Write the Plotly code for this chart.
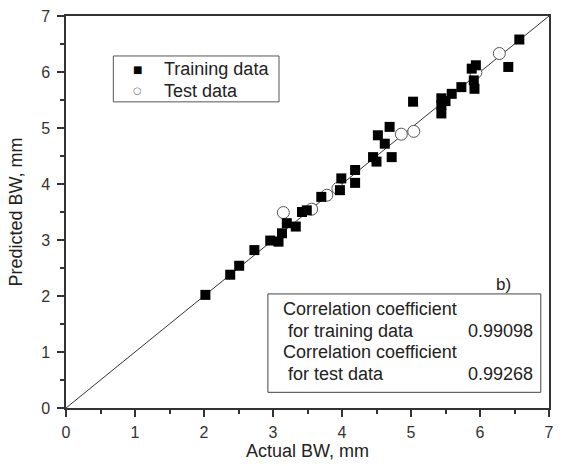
import plotly.graph_objects as go

# training data (actual, predicted)
train_actual = [2.02, 2.38, 2.51, 2.73, 2.96, 3.08, 3.13, 3.20, 3.33, 3.42, 3.49,
                3.70, 3.97, 3.99, 4.19, 4.19, 4.45, 4.50, 4.52, 4.62, 4.69, 4.72,
                5.03, 5.44, 5.44, 5.44, 5.50, 5.59, 5.73, 5.88, 5.94, 5.91, 5.92,
                6.41, 6.57]
train_pred = [2.02, 2.38, 2.54, 2.82, 2.99, 2.97, 3.12, 3.30, 3.24, 3.50, 3.53,
              3.77, 3.89, 4.10, 4.25, 4.02, 4.48, 4.40, 4.87, 4.72, 5.02, 4.48,
              5.47, 5.53, 5.26, 5.41, 5.48, 5.61, 5.73, 6.06, 6.12, 5.85, 5.70,
              6.09, 6.58]

# test data
test_actual = [3.15, 3.56, 3.78, 3.94, 4.86, 5.04, 5.94, 6.28]
test_pred = [3.49, 3.55, 3.80, 3.92, 4.89, 4.94, 5.99, 6.33]

diag = [0, 7]

legend_names = ["Training data", "Test data"]
legend_symbols = ["■", "○"]

stats_labels = ["Correlation coefficient", " for training data",
                "Correlation coefficient", " for test data"]
stats_values = ["", "0.99098", "", "0.99268"]

FONT = "Arial, Liberation Sans, sans-serif"
AX = "#333333"
TXT = "#222222"

fig = go.Figure()
fig.add_trace(go.Scatter(x=diag, y=diag, mode="lines",
                         line=dict(color="#333333", width=1), showlegend=False))
fig.add_trace(go.Scatter(x=test_actual, y=test_pred, mode="markers",
                         marker=dict(symbol="circle", size=12, color="white",
                                     line=dict(color="#555555", width=1)),
                         showlegend=False))
fig.add_trace(go.Scatter(x=train_actual, y=train_pred, mode="markers",
                         marker=dict(symbol="square", size=10, color="black",
                                     line=dict(width=0)),
                         showlegend=False))

# legend box (drawn by hand to get the compact row spacing)
fig.add_shape(type="rect", xref="paper", yref="paper",
              x0=0.098, x1=0.441, y0=0.781, y1=0.898,
              line=dict(color="#555555", width=1), fillcolor="white", layer="above")
for name, sym, yy, col in zip(legend_names, legend_symbols, [0.864, 0.809],
                              ["black", "#777777"]):
    fig.add_annotation(x=0.147, y=yy, xref="paper", yref="paper", text=sym,
                       showarrow=False, xanchor="center", yanchor="middle",
                       font=dict(size=10, color=col, family="DejaVu Sans"))
    fig.add_annotation(x=0.199, y=yy, xref="paper", yref="paper", text=name,
                       showarrow=False, xanchor="left", yanchor="middle",
                       font=dict(size=18, color=TXT, family=FONT))

# correlation box
fig.add_shape(type="rect", xref="paper", yref="paper",
              x0=0.418, x1=0.983, y0=0.040, y1=0.291,
              line=dict(color="#444444", width=1), fillcolor="white", layer="above")
rows_y = [0.253, 0.197, 0.144, 0.088]
for lab, val, yy in zip(stats_labels, stats_values, rows_y):
    fig.add_annotation(x=0.445, y=yy, xref="paper", yref="paper", text=lab,
                       showarrow=False, xanchor="left", yanchor="middle",
                       font=dict(size=18, color=TXT, family=FONT))
    if val:
        fig.add_annotation(x=0.971, y=yy, xref="paper", yref="paper", text=val,
                           showarrow=False, xanchor="right", yanchor="middle",
                           font=dict(size=18, color=TXT, family=FONT))
fig.add_annotation(x=0.905, y=0.315, xref="paper", yref="paper", text="b)",
                   showarrow=False, xanchor="center", yanchor="middle",
                   font=dict(size=17, color=TXT, family=FONT))

axis_common = dict(range=[0, 7], dtick=1, showgrid=False, zeroline=False,
                   showline=True, linecolor=AX, linewidth=1.5, mirror=True,
                   ticks="outside", ticklen=7, tickcolor=AX, tickwidth=1.5,
                   minor=dict(dtick=0.5, ticks="outside", ticklen=4,
                              tickcolor=AX, tickwidth=1.5),
                   automargin=False,
                   tickfont=dict(size=16, color="#333333", family=FONT))

fig.update_xaxes(**axis_common, ticklabelstandoff=2,
                 title=dict(text="Actual BW, mm", standoff=0,
                            font=dict(size=18, color=TXT, family=FONT)))
fig.update_yaxes(**axis_common, ticklabelstandoff=4,
                 title=dict(text="Predicted BW, mm", standoff=14,
                            font=dict(size=18, color=TXT, family=FONT)))

fig.update_layout(
    width=574, height=466,
    margin=dict(l=66, r=25, t=16, b=58),
    plot_bgcolor="white", paper_bgcolor="white",
    font=dict(family=FONT, color=TXT),
    showlegend=False,
)

# the page body has a default 8px margin; remove it so the figure fills the window
fig.write_html("out.html", config={"displayModeBar": False},
               post_script="document.body.style.margin='0';")
